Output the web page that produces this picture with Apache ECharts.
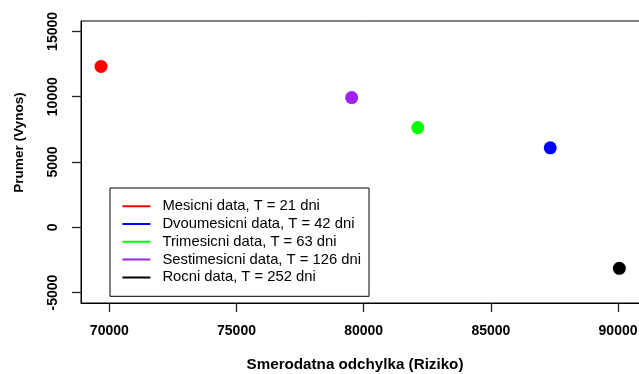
<!DOCTYPE html>
<html><head><meta charset="utf-8">
<script src="https://cdn.jsdelivr.net/npm/echarts@6/dist/echarts.min.js"></script>
<style>html,body{margin:0;padding:0;background:#fff}#c{width:639px;height:374px}</style>
</head><body><div id="c"></div>
<script>
const seriesNames = ['Mesicni data, T = 21 dni','Dvoumesicni data, T = 42 dni','Trimesicni data, T = 63 dni','Sestimesicni data, T = 126 dni','Rocni data, T = 252 dni'];
const riziko = [69673, 87335, 82126, 79528, 90052];
const vynos = [12324, 6086, 7638, 9931, -3142];
const xTicks = [70000, 75000, 80000, 85000, 90000];
const yTicks = [-5000, 0, 5000, 10000, 15000];
const colors = ['#FF0000','#0000FF','#00FF00','#A020F0','#000000'];

const font = 'Liberation Sans, Arial, sans-serif';
const chart = echarts.init(document.getElementById('c'), null, {renderer:'canvas'});
chart.setOption({
  animation:false,
  backgroundColor:'#fff',
  grid:{left:81, top:21, width:559, height:282, show:true, borderColor:'#000', borderWidth:1,
    backgroundColor:'transparent', containLabel:false, outerBoundsMode:'none'},
  xAxis:{type:'value', min:68886, max:90864,
    name:'Smerodatna odchylka (Riziko)', nameLocation:'middle', nameGap:54,
    nameTextStyle:{fontFamily:font, fontWeight:'bold', fontSize:15.2, color:'#000', padding:[0,11,0,0]},
    axisLine:{show:true, onZero:false, lineStyle:{color:'#000', width:1}}, splitLine:{show:false},
    axisTick:{show:true, inside:false, length:9, customValues:xTicks, lineStyle:{color:'#222', width:1.3}},
    axisLabel:{customValues:xTicks, margin:21, fontFamily:font, fontWeight:'bold', fontSize:14, color:'#000', formatter:v=>String(v)}
  },
  yAxis:{type:'value', min:-5800, max:15800,
    name:'Prumer (Vynos)', nameLocation:'middle', nameGap:55, nameRotate:90,
    nameTextStyle:{fontFamily:font, fontWeight:'bold', fontSize:13.6, color:'#000', padding:[0,0,0,39]},
    axisLine:{show:true, onZero:false, lineStyle:{color:'#000', width:1}}, splitLine:{show:false},
    axisTick:{show:true, inside:false, length:9, customValues:yTicks, lineStyle:{color:'#222', width:1.3}},
    axisLabel:{customValues:yTicks, rotate:90, margin:21, fontFamily:font, fontWeight:'bold', fontSize:14, color:'#000', formatter:v=>String(v)}
  },
  legend:{orient:'vertical', left:110, top:188, data:seriesNames,
    icon:'path://M0,0H28V2H0Z M35,0L35,2Z', itemWidth:35, itemHeight:2, itemGap:2.8,
    padding:[10.7, 8, 11.4, 12.4], borderColor:'#000', borderWidth:1, backgroundColor:'#fff',
    textStyle:{fontFamily:font, fontSize:14.8, color:'#000', lineHeight:15}
  },
  series: seriesNames.map((n,i)=>({
    name:n, type:'scatter', symbol:'circle', symbolSize:13,
    itemStyle:{color:colors[i], opacity:1}, data:[[riziko[i], vynos[i]]]
  }))
});
</script></body></html>
